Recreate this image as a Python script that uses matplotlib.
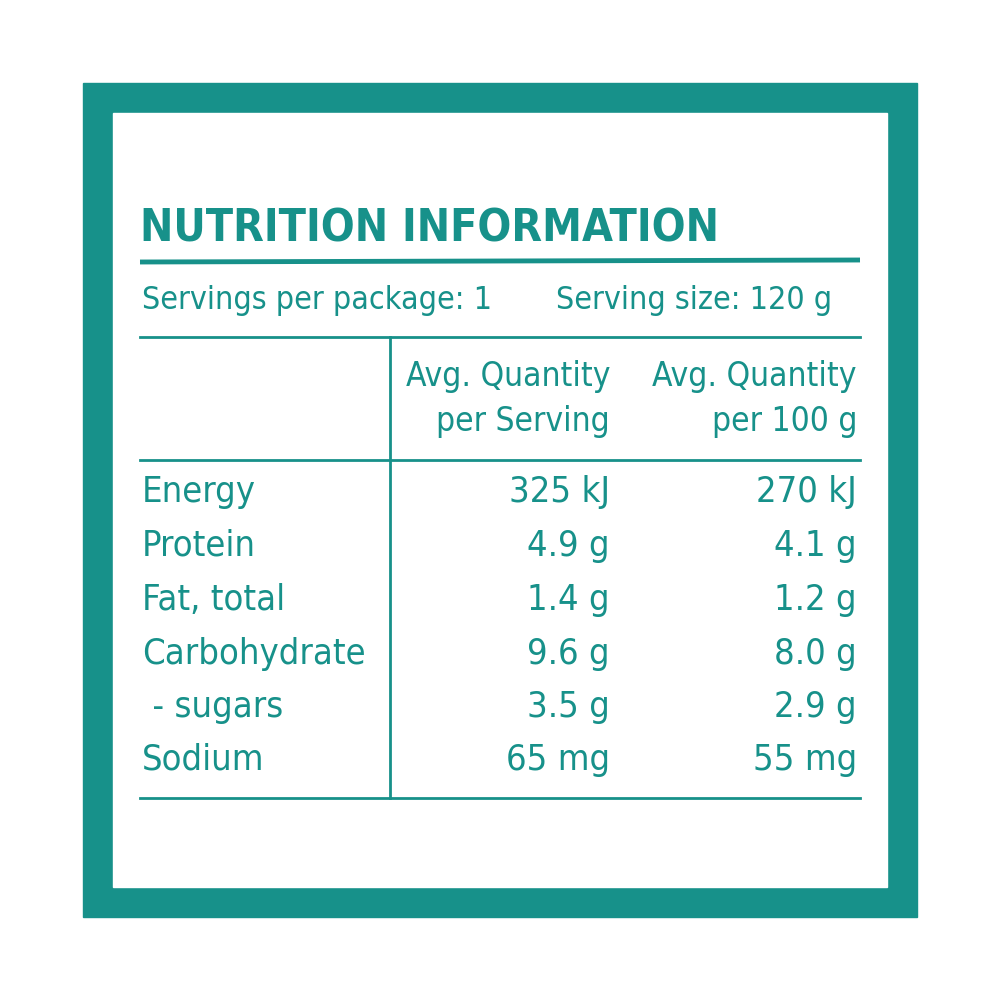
import matplotlib
matplotlib.use("Agg")
import matplotlib.pyplot as plt
from matplotlib.patches import Rectangle

nutrients = ["Energy", "Protein", "Fat, total", "Carbohydrate", " - sugars", "Sodium"]
per_serving = ["325 kJ", "4.9 g", "1.4 g", "9.6 g", "3.5 g", "65 mg"]
per_100g = ["270 kJ", "4.1 g", "1.2 g", "8.0 g", "2.9 g", "55 mg"]
title = "NUTRITION INFORMATION"
servings_text = "Servings per package: 1"
size_text = "Serving size: 120 g"
col_heads = ["Avg. Quantity\nper Serving", "Avg. Quantity\nper 100 g"]

teal = "#17918a"
FAM = ["DejaVu Sans"]
ST = "condensed"

fig = plt.figure(figsize=(10, 10), dpi=100)
ax = fig.add_axes([0, 0, 1, 1])
ax.set_xlim(0, 1000); ax.set_ylim(1000, 0); ax.axis("off")

ax.add_patch(Rectangle((83, 83), 834, 834, color=teal))
ax.add_patch(Rectangle((113, 113), 774, 774, color="white"))

ax.text(140, 229, title, color=teal, fontsize=32, fontweight="bold", family=FAM, fontstretch=ST, va="center", ha="left")
ax.plot([140, 860], [262, 260], color=teal, lw=3.5, solid_capstyle="butt")
ax.text(142, 300, servings_text, color=teal, fontsize=23, family=FAM, fontstretch=ST, va="center")
ax.text(832, 300, size_text, color=teal, fontsize=23, family=FAM, fontstretch=ST, va="center", ha="right")
ax.plot([140, 860], [337, 337], color=teal, lw=2)
ax.plot([140, 860], [460, 460], color=teal, lw=2)
ax.plot([140, 860], [798, 798], color=teal, lw=2)
ax.plot([390, 390], [337, 798], color=teal, lw=2)

for x, h in zip([610, 857], col_heads):
    ax.text(x, 399, h, color=teal, fontsize=24, family=FAM, fontstretch=ST, va="center", ha="right", multialignment="right", linespacing=1.45)

ys = [492, 546, 600, 654, 707, 760]
for y, n, a, b in zip(ys, nutrients, per_serving, per_100g):
    ax.text(142, y, n, color=teal, fontsize=26, family=FAM, fontstretch=ST, va="center")
    ax.text(610, y, a, color=teal, fontsize=26, family=FAM, fontstretch=ST, va="center", ha="right")
    ax.text(857, y, b, color=teal, fontsize=26, family=FAM, fontstretch=ST, va="center", ha="right")

fig.savefig("out.png", dpi=100)
